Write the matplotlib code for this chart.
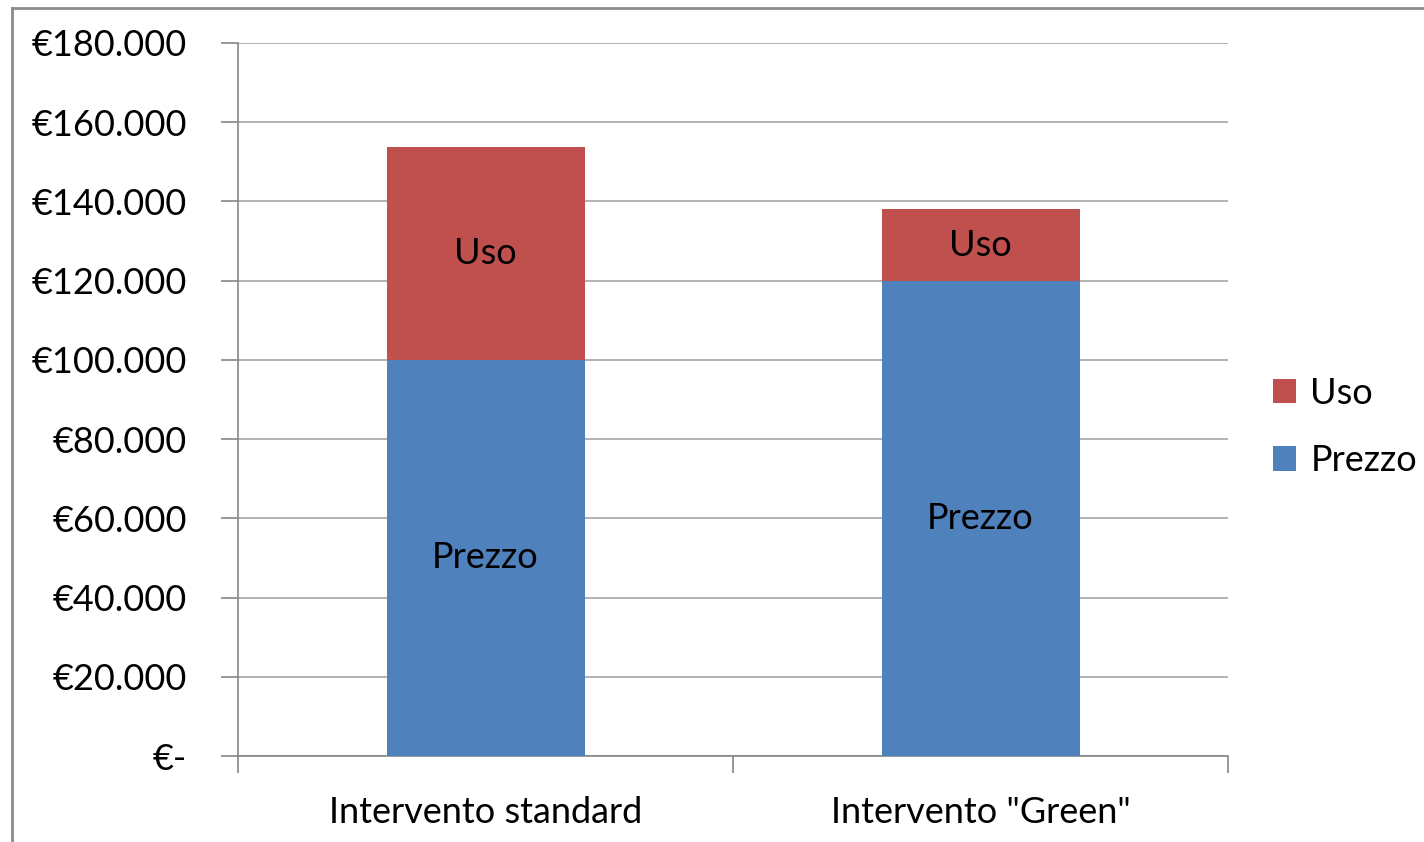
import matplotlib
matplotlib.use("Agg")
import matplotlib.pyplot as plt
from matplotlib.lines import Line2D

categories = ['Intervento standard', 'Intervento "Green"']
prezzo = [100000, 120000]
uso = [53800, 18000]
yticks = [0, 20000, 40000, 60000, 80000, 100000, 120000, 140000, 160000, 180000]
ytick_labels = ['€-', '€20.000', '€40.000', '€60.000', '€80.000', '€100.000',
                '€120.000', '€140.000', '€160.000', '€180.000']

plt.rcParams['font.family'] = ['Lato', 'DejaVu Sans']
FS = 26
BLUE = '#4F81BD'
RED = '#C0504D'
GRID = '#A6A6A6'

fig = plt.figure(figsize=(14.24, 8.42), dpi=100)
ax = fig.add_axes([238/1424, 1-756/842, (1228-238)/1424, (756-43)/842])

x = list(range(len(categories)))
b1 = ax.bar(x, prezzo, width=0.4, color=BLUE, label='Prezzo', zorder=3)
b2 = ax.bar(x, uso, width=0.4, bottom=prezzo, color=RED, label='Uso', zorder=3)
ax.bar_label(b1, labels=['Prezzo'] * len(x), label_type='center', fontsize=FS)
ax.bar_label(b2, labels=['Uso'] * len(x), label_type='center', fontsize=FS)

ax.set_xlim(-0.5, len(categories) - 0.5)
ax.set_ylim(0, 180000)
ax.set_yticks(yticks)
ax.set_yticklabels(ytick_labels, fontsize=FS)
ax.set_xticks(x)
ax.set_xticklabels(categories, fontsize=FS)
ax.set_xticks([-0.5, 0.5, 1.5], minor=True)
ax.tick_params(axis='x', which='major', length=0, pad=29)
ax.tick_params(axis='x', which='minor', length=12, width=1.2, color='#868686')
ax.tick_params(axis='y', which='major', length=12, width=1.2, color='#868686', pad=24.5)

for s in ['top', 'right']:
    ax.spines[s].set_visible(False)
for s in ['left', 'bottom']:
    ax.spines[s].set_color('#868686')
    ax.spines[s].set_linewidth(1.2)

ax.yaxis.grid(True, color=GRID, linewidth=1.2, zorder=0)
ax.set_axisbelow(True)

handles = [b2, b1]
leg = fig.legend(handles=handles, labels=['Uso', 'Prezzo'], loc='center left',
                 bbox_to_anchor=(1240/1424, 1-427/842), frameon=False, fontsize=FS,
                 handlelength=0.65, handleheight=0.65, handletextpad=0.4, labelspacing=0.95)

# figure border (left and top visible)
fig.add_artist(Line2D([12/1424, 12/1424], [0, 1-7.5/842], transform=fig.transFigure,
                      color='#8C8C8C', linewidth=2))
fig.add_artist(Line2D([12/1424, 1], [1-7.5/842, 1-7.5/842], transform=fig.transFigure,
                      color='#8C8C8C', linewidth=2))

fig.savefig('out.png', dpi=100)
